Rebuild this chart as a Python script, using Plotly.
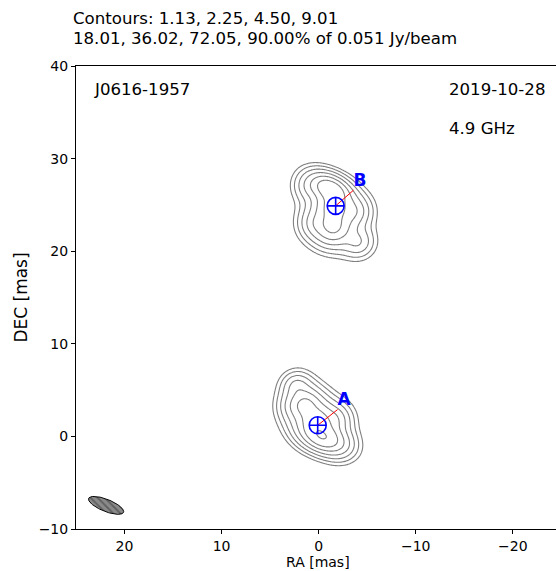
import numpy as np
import plotly.graph_objects as go

# ---- data ----
source_name = "J0616-1957"
obs_date = "2019-10-28"
freq_label = "4.9 GHz"
peak_jy = 0.051
contour_levels = [1.13, 2.25, 4.50, 9.01, 18.01, 36.02, 72.05, 90.00]

# brightness components: RA, DEC (mas), amplitude, scale major/minor (mas), PA (deg)
comp_ra = [-0.4, 0.3, 1.4, 2.2, -1.6, -2.3, 2.6, -1.2, -1.5, -1.5, -4.0, 0.8, -3.6, 0.2]
comp_dec = [0.0, 1.7, 3.4, 5.4, 1.8, -0.9, 3.2, 26.7, 24.8, 22.6, 21.0, 27.0, 24.3, 23.0]
comp_amp = [100, 55, 45, 12, 15, 6, 6, 85, 50, 45, 10, 9, 15, 12]
comp_smaj = [0.6, 0.55, 0.5, 0.45, 0.5, 0.5, 0.45, 0.55, 0.55, 0.55, 0.5, 0.5, 0.5, 0.5]
comp_smin = [0.38, 0.55, 0.5, 0.45, 0.5, 0.5, 0.45, 0.35, 0.55, 0.55, 0.5, 0.5, 0.5, 0.5]
comp_pa = [63, 0, 0, 0, 0, 0, 0, 60, 0, 0, 0, 0, 0, 0]

# model-fit components (markers) and label anchor positions
mf_names = ["A", "B"]
mf_ra = [0.1, -1.75]
mf_dec = [1.2, 24.9]
lab_ra = [-1.95, -3.6]
lab_dec = [2.9, 26.6]

# restoring beam
beam_ra, beam_dec = 21.9, -7.45
beam_major, beam_minor, beam_pa = 3.9, 1.3, 67

# ---- field ----
ra = np.round(np.arange(-9.0, 7.01, 0.1), 2)
dec = np.round(np.arange(-5.5, 32.01, 0.1), 2)
RA, DEC = np.meshgrid(ra, dec)
field = np.zeros_like(RA)
rc = 3.0
for x0, y0, a0, sj, sn, pa in zip(comp_ra, comp_dec, comp_amp, comp_smaj, comp_smin, comp_pa):
    th = np.deg2rad(pa)
    dx, dy = RA - x0, DEC - y0
    u = (dx * np.sin(th) + dy * np.cos(th)) / sj
    v = (dx * np.cos(th) - dy * np.sin(th)) / sn
    r = np.sqrt(u ** 2 + v ** 2)
    field += a0 * np.exp(-(np.sqrt(r ** 2 + rc ** 2) - rc))
pct = field / field.max() * 100.0
lg = np.round(np.log2(np.clip(pct, 1e-3, None)), 3)

fig = go.Figure()
grey_scale = [[0, "#7f7f7f"], [1, "#7f7f7f"]]
fig.add_trace(go.Contour(
    x=ra, y=dec, z=lg, colorscale=grey_scale, showscale=False,
    contours=dict(start=np.log2(contour_levels[0]), end=np.log2(contour_levels[6]) + 1e-6,
                  size=1.0, coloring="lines"),
    line=dict(width=1.1), hoverinfo="skip"))
fig.add_trace(go.Contour(
    x=ra, y=dec, z=lg, colorscale=grey_scale, showscale=False,
    contours=dict(start=np.log2(contour_levels[7]), end=np.log2(contour_levels[7]) + 1e-6,
                  size=1.0, coloring="lines"),
    line=dict(width=1.1), hoverinfo="skip"))

# beam ellipse
t = np.linspace(0, 2 * np.pi, 100)
th = np.deg2rad(beam_pa)
a, b = beam_major / 2, beam_minor / 2
bx = beam_ra + a * np.cos(t) * np.sin(th) + b * np.sin(t) * np.cos(th)
by = beam_dec + a * np.cos(t) * np.cos(th) - b * np.sin(t) * np.sin(th)
fig.add_trace(go.Scatter(x=bx, y=by, mode="lines", fill="toself",
                         fillcolor="#808080",
                         fillpattern=dict(shape="\\", fgcolor="#333333", bgcolor="#8a8a8a", size=5, solidity=0.35),
                         line=dict(color="black", width=1), hoverinfo="skip"))

for i, name in enumerate(mf_names):
    fig.add_trace(go.Scatter(x=[mf_ra[i], lab_ra[i]], y=[mf_dec[i], lab_dec[i]], mode="lines",
                             line=dict(color="red", width=1), hoverinfo="skip"))
    fig.add_trace(go.Scatter(x=[lab_ra[i]], y=[lab_dec[i]], mode="text", text=[f"<b>{name}</b>"],
                             textposition="top right",
                             textfont=dict(color="blue", size=17, family="DejaVu Sans")))
fig.add_trace(go.Scatter(x=mf_ra, y=mf_dec, mode="markers",
                         marker=dict(symbol="circle-cross-open", size=17, color="blue",
                                     line=dict(color="blue", width=1.6)), hoverinfo="skip"))

W, H = 556, 571
L, R, T, B = 76, 0, 66, 42
pw, ph = W - L - R, H - T - B

def px(xp):
    return (xp - L) / pw

def py(yp):
    return (H - B - yp) / ph

lv = ", ".join(f"{v:.2f}" for v in contour_levels[:4])
lv2 = ", ".join(f"{v:.2f}" for v in contour_levels[4:])
anns = [
    dict(x=px(71), y=py(19), text=f"Contours: {lv}", xanchor="left", yanchor="middle", font=dict(size=16.6)),
    dict(x=px(71), y=py(38), text=f"{lv2}% of {peak_jy:.3f} Jy/beam", xanchor="left", yanchor="middle", font=dict(size=16.6)),
    dict(x=px(92), y=py(90), text=source_name, xanchor="left", yanchor="middle", font=dict(size=16.6)),
    dict(x=px(447), y=py(90), text=obs_date, xanchor="left", yanchor="middle", font=dict(size=16.6)),
    dict(x=px(447), y=py(128), text=freq_label, xanchor="left", yanchor="middle", font=dict(size=16.6)),
    dict(x=px(318), y=py(562), text="RA [mas]", xanchor="center", yanchor="middle", font=dict(size=14)),
]
for an in anns:
    an.update(xref="paper", yref="paper", showarrow=False)

fig.update_layout(
    width=W, height=H, margin=dict(l=L, r=R, t=T, b=B, autoexpand=False),
    paper_bgcolor="white", plot_bgcolor="white", showlegend=False,
    font=dict(family="DejaVu Sans", color="black", size=14),
    annotations=anns,
)
fig.update_xaxes(range=[25, -24.45], tickvals=[20, 10, 0, -10, -20],
                 ticktext=["20", "10", "0", "\u221210", "\u221220"],
                 showline=True, linecolor="black", linewidth=1, mirror=True,
                 ticks="outside", ticklen=4, tickcolor="black", showgrid=False, zeroline=False,
                 automargin=False, tickfont=dict(size=14))
fig.update_yaxes(range=[-10, 40], tickvals=[40, 30, 20, 10, 0, -10],
                 ticktext=["40", "30", "20", "10", "0", "\u221210"],
                 showline=True, linecolor="black", linewidth=1, mirror=False,
                 ticks="outside", ticklen=4, tickcolor="black", showgrid=False, zeroline=False,
                 automargin=False,
                 title=dict(text="DEC [mas]", standoff=6), tickfont=dict(size=14))

fig.write_html("out.html", post_script="document.body.style.margin='0px';",
               config={"displayModeBar": False})
